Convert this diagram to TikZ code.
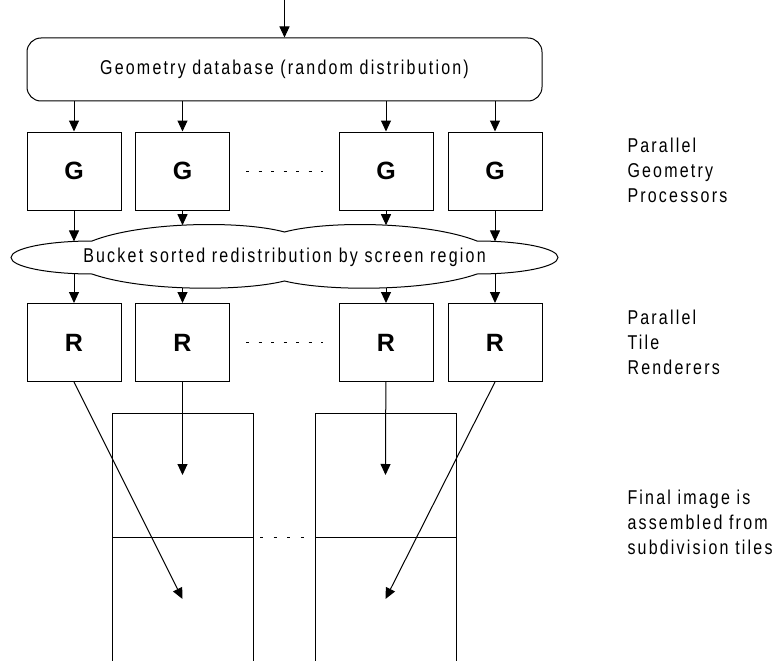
\documentclass[tikz,border=0pt]{standalone}
\usepackage{fontspec}
\setmainfont{Liberation Sans}[FakeStretch=0.8,LetterSpace=11]
\newfontfamily\letterfont{Liberation Sans}
\usetikzlibrary{arrows.meta}

\begin{document}
\begin{tikzpicture}[x=1pt,y=-1pt,
  line width=1pt,
  arr/.style={-{Triangle[length=11pt,width=10pt]}},
  lbl/.style={font=\fontsize{20}{25}\selectfont, inner sep=0pt},
  unit/.style={draw, minimum width=94pt, minimum height=78pt, inner sep=0pt,
    font=\letterfont\bfseries\fontsize{25}{25}\selectfont},
  side/.style={lbl, align=left, anchor=north west},
  tile/.style={draw, minimum width=141pt, minimum height=124pt, inner sep=0pt, outer sep=0pt},
  gap/.style={dash pattern=on 3.3pt off 9.2pt}
]
\useasboundingbox (0,0) rectangle (777,661);

% input and geometry database
\coordinate (src) at (284.5,0);
\node[lbl, draw, rounded corners=14pt, minimum width=515pt, minimum height=63pt]
  (db) at (284.5,69.5) {Geometry database (random distribution)};
\draw[arr] (src) -- (db);

% geometry processors
\node[unit] (g1) at (74,171) {G};
\node[unit] (g2) at (182.5,171) {G};
\node[unit] (g3) at (386,171) {G};
\node[unit] (g4) at (495,171) {G};
\foreach \i in {1,...,4} \draw[arr] (db.south -| g\i) -- (g\i);
\draw[gap] ([xshift=16pt]g2.east) -- ([xshift=-16pt]g3.west);

% redistribution cloud
\draw (92,241) .. controls (140,222) and (240,220) .. (284.5,232)
  .. controls (329,220) and (429,222) .. (477,241)
  .. controls (521.7,241) and (558,248.4) .. (558,257.5)
  .. controls (558,266.6) and (521.7,274) .. (477,274)
  .. controls (429,291) and (329,292) .. (284.5,281)
  .. controls (240,292) and (140,291) .. (92,274)
  .. controls (47.3,274) and (11,266.6) .. (11,257.5)
  .. controls (11,248.4) and (47.3,241) .. (92,241) -- cycle;
\node[lbl] (bucket) at (284.5,257) {Bucket sorted redistribution by screen region};
\coordinate (ct1) at (74,241.4);
\coordinate (ct2) at (182.5,225.2);
\coordinate (ct3) at (386,225.2);
\coordinate (ct4) at (495,241.4);
\coordinate (cb1) at (74,273.6);
\coordinate (cb2) at (182.5,287.8);
\coordinate (cb3) at (386,287.8);
\coordinate (cb4) at (495,273.6);
\foreach \i in {1,...,4} \draw[arr] (g\i) -- (ct\i);

% tile renderers
\node[unit] (r1) at (74,342.5) {R};
\node[unit] (r2) at (182.5,342.5) {R};
\node[unit] (r3) at (386,342.5) {R};
\node[unit] (r4) at (495,342.5) {R};
\foreach \i in {1,...,4} \draw[arr] (cb\i) -- (r\i);
\draw[gap] ([xshift=16pt]r2.east) -- ([xshift=-16pt]r3.west);

% screen subdivision tiles
\node[tile] (ta1) at (182.5,475) {};
\node[tile] (ta2) at (385.5,475) {};
\draw (ta1.south west) -- ++(0,130) (ta1.south east) -- ++(0,130);
\draw (ta2.south west) -- ++(0,130) (ta2.south east) -- ++(0,130);
\coordinate (tb1) at (182.5,599);
\coordinate (tb2) at (385.5,599);
\draw[dash pattern=on 3pt off 10.5pt] ([xshift=7pt]ta1.south east) -- ([xshift=-7pt]ta2.south west);

\draw[arr] (r2) -- (ta1.center);
\draw[arr] (r3) -- (ta2.center);
\draw[arr] (r1.south) -- (tb1);
\draw[arr] (r4.south) -- (tb2);

% stage labels
\node[side] (lgeo) at (627,137.5) {Parallel\\Geometry\\Processors};
\node[side] (lren) at (627,309.5) {Parallel\\Tile\\Renderers};
\node[side] (lfin) at (627,489.5) {Final image is\\assembled from\\subdivision tiles};
\end{tikzpicture}
\end{document}
